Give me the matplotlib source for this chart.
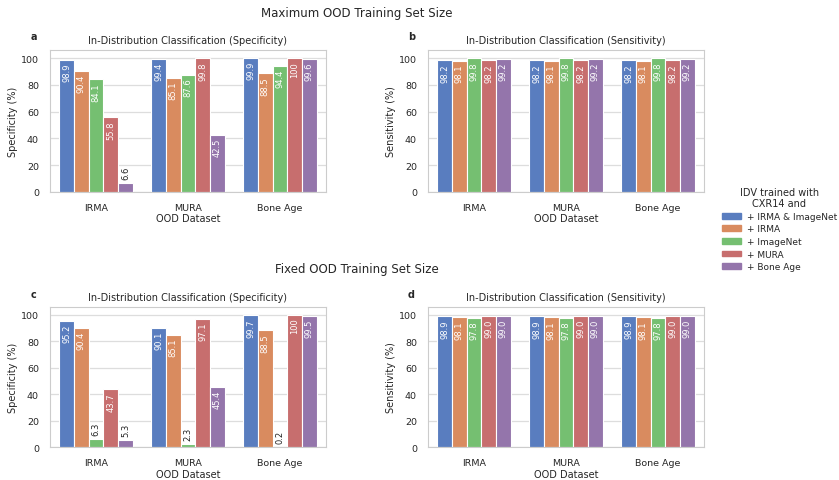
import numpy as np
import matplotlib
matplotlib.use("Agg")
import matplotlib.pyplot as plt
import matplotlib.patches as mpatches
import seaborn as sns

sns.set_theme(style="whitegrid")
plt.rcParams['font.family'] = ['DejaVu Sans']

datasets = ["IRMA", "MURA", "Bone Age"]
models = ["+ IRMA & ImageNet", "+ IRMA", "+ ImageNet", "+ MURA", "+ Bone Age"]

# rows: models, cols: datasets
spec_max = [[98.9, 99.4, 99.9],
            [90.4, 85.1, 88.5],
            [84.1, 87.6, 94.4],
            [55.8, 99.8, 100.0],
            [6.6, 42.5, 99.6]]
sens_max = [[98.2, 98.2, 98.2],
            [98.1, 98.1, 98.1],
            [99.8, 99.8, 99.8],
            [98.2, 98.2, 98.2],
            [99.2, 99.2, 99.2]]
spec_fixed = [[95.2, 90.1, 99.7],
              [90.4, 85.1, 88.5],
              [6.3, 2.3, 0.2],
              [43.7, 97.1, 100.0],
              [5.3, 45.4, 99.5]]
sens_fixed = [[98.9, 98.9, 98.9],
              [98.1, 98.1, 98.1],
              [97.8, 97.8, 97.8],
              [99.0, 99.0, 99.0],
              [99.0, 99.0, 99.0]]

pal = [sns.desaturate(c, 0.75) for c in sns.color_palette("muted", 5)]

W, H = 839, 481
fig = plt.figure(figsize=(W / 100, H / 100), dpi=100)

def px_axes(l, t, r, b):
    return fig.add_axes([l / W, 1 - b / H, (r - l) / W, (b - t) / H])

def fmt(v):
    return "100" if v == 100 else f"{v:.1f}"

def draw(ax, data, title, ylabel, letter):
    n = len(models)
    bw = 0.8 / n
    x = np.arange(len(datasets))
    for i, m in enumerate(models):
        xs = x - 0.4 + bw * (i + 0.5)
        vals = data[i]
        ax.bar(xs, vals, width=bw, color=pal[i], edgecolor="white", linewidth=0.8, label=m)
        for xx, v in zip(xs, vals):
            if v >= 10:
                ax.annotate(fmt(v), (xx, v), xytext=(0, -2), textcoords="offset points",
                            ha="center", va="top", rotation=90, color="white", fontsize=6)
            else:
                ax.annotate(fmt(v), (xx, v), xytext=(0, 3), textcoords="offset points",
                            ha="center", va="bottom", rotation=90, color="#222222", fontsize=6)
    ax.set_xlim(-0.5, 2.5)
    ax.set_ylim(0, 106)
    ax.set_yticks([0, 20, 40, 60, 80, 100])
    ax.set_xticks(x)
    ax.set_xticklabels(datasets)
    ax.grid(axis="x", visible=False)
    ax.grid(axis="y", color="#dddddd", linewidth=0.9)
    ax.tick_params(labelsize=6.8, pad=2)
    ax.set_xlabel("OOD Dataset", fontsize=7, labelpad=1)
    ax.set_ylabel(ylabel, fontsize=7, labelpad=2)
    ax.set_title(title, fontsize=7, pad=5)
    for s in ax.spines.values():
        s.set_color("#cccccc")
        s.set_linewidth(0.8)
    ax.text(-0.06, 1.06, letter, transform=ax.transAxes, fontsize=7, fontweight="bold",
            ha="center", va="bottom")

ax_a = px_axes(50, 51, 326, 193)
ax_b = px_axes(428, 51, 704, 193)
ax_c = px_axes(50, 308, 326, 448)
ax_d = px_axes(428, 308, 704, 448)

draw(ax_a, spec_max, "In-Distribution Classification (Specificity)", "Specificity (%)", "a")
draw(ax_b, sens_max, "In-Distribution Classification (Sensitivity)", "Sensitivity (%)", "b")
draw(ax_c, spec_fixed, "In-Distribution Classification (Specificity)", "Specificity (%)", "c")
draw(ax_d, sens_fixed, "In-Distribution Classification (Sensitivity)", "Sensitivity (%)", "d")

fig.text(357 / W, 1 - 14 / H, "Maximum OOD Training Set Size", ha="center", va="center", fontsize=8.5)
fig.text(357 / W, 1 - 270 / H, "Fixed OOD Training Set Size", ha="center", va="center", fontsize=8.5)

handles = [mpatches.Patch(color=pal[i], label=m) for i, m in enumerate(models)]
leg = fig.legend(handles=handles, title="IDV trained with\nCXR14 and", loc="center left",
                 bbox_to_anchor=(718 / W, 1 - 230 / H), frameon=False, fontsize=6.5,
                 title_fontsize=7, handlelength=2.2, handleheight=0.6, labelspacing=0.4,
                 handletextpad=0.6, borderaxespad=0)
leg.get_title().set_multialignment("center")

fig.savefig("out.png", dpi=100)
